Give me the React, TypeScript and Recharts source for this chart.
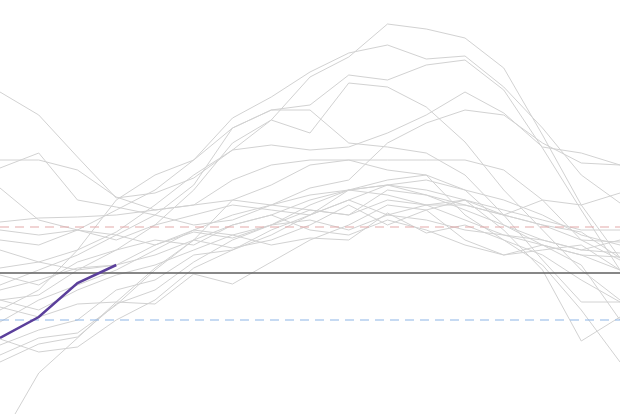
import React from "react";
import { LineChart, Line, XAxis, YAxis, ReferenceLine } from "recharts";

// 17 time steps across the period
const steps = [0, 1, 2, 3, 4, 5, 6, 7, 8, 9, 10, 11, 12, 13, 14, 15, 16];

// past years (anomaly units)
const y01 = [0.5, 1.1, 2.3, 4.1, 6.8, 9.8, 12.3, 15.3, 19.6, 21.6, 24.9, 24.4, 23.5, 20.5, 13.8, 6.8, 1.5];
const y02 = [3.3, 2.8, 4.3, 6.3, 8.3, 11.3, 15.5, 17.6, 20.1, 22.0, 22.8, 21.4, 21.7, 18.6, 14.5, 9.8, 7.0];
const y03 = [-1.2, 0.3, 1.8, 3.8, 5.8, 8.8, 14.5, 16.3, 16.8, 19.8, 19.3, 20.8, 21.3, 18.3, 12.5, 6.3, 0.3];
const y04 = [-2.7, -2.2, 0.3, 2.3, 4.8, 8.3, 13.0, 15.3, 14.0, 19.0, 18.6, 16.6, 13.1, 8.3, 4.3, 0.3, -2.7];
const y05 = [-3.7, -1.7, 2.3, 7.3, 9.8, 11.3, 14.5, 16.3, 16.3, 13.0, 12.6, 12.0, 9.8, 5.8, 1.3, -2.9, -2.9];
const y06 = [18.1, 15.8, 11.6, 7.5, 8.0, 9.5, 12.3, 12.8, 12.3, 12.6, 14.0, 15.8, 18.1, 16.0, 12.6, 12.0, 10.8];
const y07 = [11.3, 11.3, 10.3, 7.6, 6.3, 6.8, 9.3, 10.8, 11.3, 11.3, 11.3, 11.3, 11.3, 10.3, 7.3, 3.3, 1.3];
const y08 = [10.5, 12.0, 7.3, 6.6, 5.8, 4.8, 5.3, 6.8, 8.5, 9.3, 13.0, 15.0, 16.3, 15.8, 13.0, 11.0, 10.8];
const y09 = [-16.7, -10.0, -6.5, -2.9, 0.5, 3.3, 4.8, 5.8, 7.3, 8.3, 8.8, 7.8, 6.3, 4.8, 3.3, 2.3, 2.0];
const y10 = [-8.9, -7.1, -6.4, -3.1, -1.7, 1.1, 3.3, 4.8, 6.8, 8.3, 7.8, 6.8, 5.3, 3.8, 2.8, 1.8, 0.3];
const y11 = [-6.6, -7.9, -7.4, -4.7, -2.7, 0.5, 2.3, 3.8, 5.8, 7.3, 8.8, 8.3, 7.3, 5.8, 4.8, 3.3, 3.1];
const y12 = [-3.4, -4.4, -3.1, -2.9, -3.1, -0.1, -1.1, 1.1, 3.3, 4.8, 6.8, 6.3, 7.3, 4.3, 0.3, -6.8, -4.4];
const y13 = [-4.9, -2.7, -1.2, 0.3, 2.3, 4.3, 3.8, 2.8, 3.5, 3.3, 6.0, 4.0, 4.8, 3.3, 0.8, -3.7, -8.9];
const y14 = [2.3, 1.1, 0.3, 0.8, 2.8, 4.3, 5.8, 6.8, 7.8, 8.3, 8.8, 9.3, 8.3, 7.3, 5.8, 3.8, 2.8];
const y15 = [5.1, 5.5, 5.6, 5.8, 6.3, 6.8, 7.3, 6.8, 6.3, 5.8, 7.3, 6.8, 6.8, 5.8, 7.3, 6.8, 8.0];
const y16 = [4.3, 3.8, 4.3, 3.3, 4.8, 5.8, 6.8, 6.3, 5.8, 7.3, 5.8, 6.8, 7.3, 6.3, 5.3, 4.3, 4.3];
const y17 = [8.5, 5.3, 4.3, 3.8, 2.8, 4.1, 3.5, 4.8, 6.3, 5.8, 8.3, 7.8, 6.8, 5.8, 4.8, 4.1, 1.5];
const y18 = [-0.2, -1.2, 1.1, 2.3, 3.3, 2.8, 4.8, 5.8, 4.3, 3.8, 5.3, 4.3, 2.8, 1.8, 2.8, 1.8, 1.6];
const y19 = [-1.7, -0.7, 0.5, 0.8, 1.8, 3.3, 2.5, 3.3, 4.8, 6.8, 4.8, 6.3, 3.3, 1.8, 2.3, 2.8, 0.3];
const y20 = [-7.2, -5.7, -4.7, -1.7, -0.7, 1.8, 2.3, 4.3, 5.8, 8.3, 9.3, 9.8, 5.8, 3.3, 1.8, -0.7, -2.9];
const y21 = [-2.7, -3.7, -1.7, -0.2, 0.8, 2.3, 3.8, 4.8, 5.3, 4.3, 5.8, 5.3, 4.3, 3.8, 3.3, 2.3, 3.3];
const y22 = [-8.2, -6.5, -6.0, -3.2, 0.3, 3.3, 7.3, 8.8, 10.8, 11.3, 10.3, 9.8, 8.3, 4.8, 2.8, 0.8, -4.7];

// current year (partial)
const current = [-6.5, -4.4, -1.0, 0.8];

const pastYears = [y01, y02, y03, y04, y05, y06, y07, y08, y09, y10, y11, y12, y13, y14, y15, y16, y17, y18, y19, y20, y21, y22];

const meanLine = 0;
const upperBand = 4.6;
const lowerBand = -4.7;

const data = steps.map((s, i) => {
  const row: Record<string, number | null> = { step: s };
  pastYears.forEach((arr, k) => {
    row["p" + k] = arr[i];
  });
  row.cur = i < current.length ? current[i] : null;
  return row;
});

export default function App() {
  return (
    <div style={{ position: "absolute", left: 0, top: 0, width: 620, height: 414, background: "#fff" }}>
      <LineChart width={620} height={414} data={data} margin={{ top: 0, right: 0, bottom: 0, left: 0 }}>
        <XAxis dataKey="step" type="number" domain={[0, 16]} hide />
        <YAxis type="number" domain={[-14.1, 27.3]} allowDataOverflow hide />
        {pastYears.map((_, k) => (
          <Line
            key={"p" + k}
            dataKey={"p" + k}
            type="linear"
            stroke="#d2d2d2"
            strokeWidth={1}
            dot={false}
            activeDot={false}
            isAnimationActive={false}
          />
        ))}
        <ReferenceLine y={upperBand} stroke="#e3a9a9" strokeWidth={1} strokeDasharray="9 6" />
        <ReferenceLine y={lowerBand} stroke="#8db5e6" strokeWidth={1} strokeDasharray="9 6" />
        <ReferenceLine y={meanLine} stroke="#5f5f5f" strokeWidth={1.3} />
        <Line
          dataKey="cur"
          type="linear"
          stroke="#5b3f9b"
          strokeWidth={2.5}
          dot={false}
          activeDot={false}
          connectNulls={false}
          isAnimationActive={false}
        />
      </LineChart>
    </div>
  );
}
